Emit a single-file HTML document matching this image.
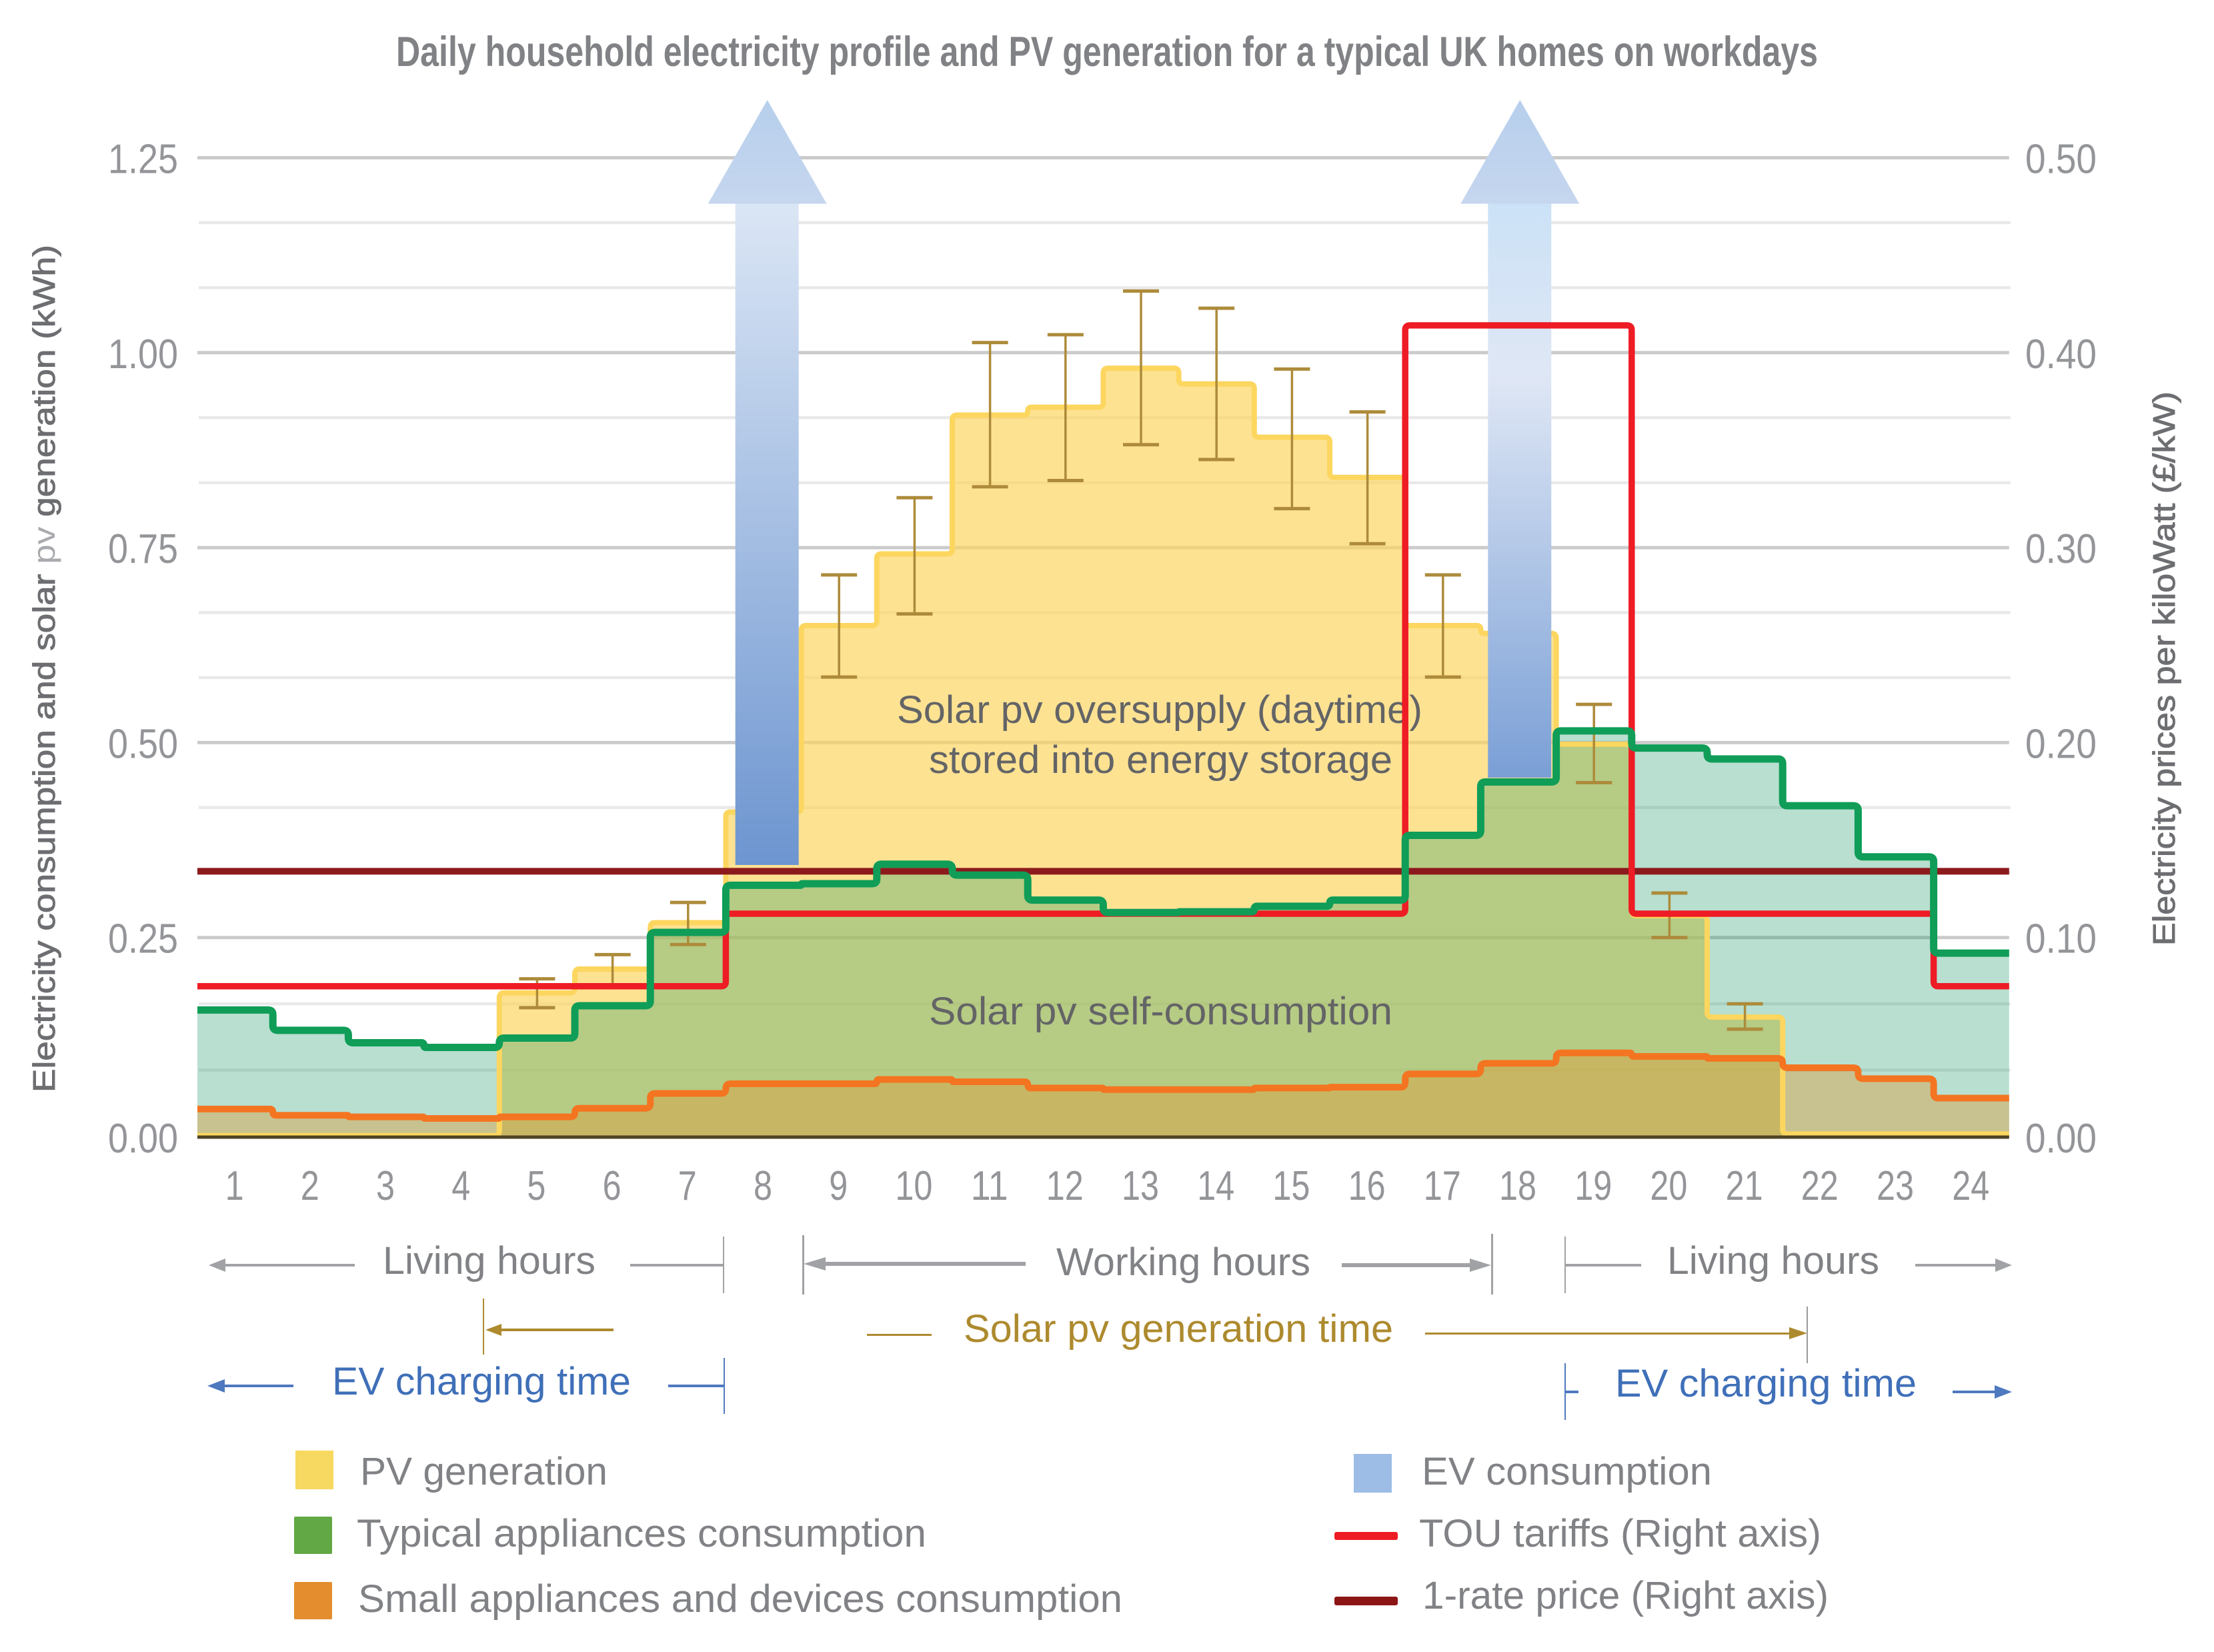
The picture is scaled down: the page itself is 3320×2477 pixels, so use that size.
<!DOCTYPE html>
<html lang="en">
<head>
<meta charset="utf-8">
<title>Daily household electricity profile and PV generation</title>
<style>
html,body{margin:0;padding:0;background:#fff;}
svg{display:block;}
text{font-family:"Liberation Sans",sans-serif;}
.ann{font-size:58px;fill:#808285;}
.leg{font-size:58px;fill:#808285;}
.inner{font-size:58px;fill:#636466;}
.tick{font-size:62px;fill:#939598;}
</style>
</head>
<body>
<svg id="chart" xmlns="http://www.w3.org/2000/svg" width="3320" height="2477" viewBox="0 0 3320 2477">
<defs>
<linearGradient id="evGradA" x1="0" y1="0" x2="0" y2="1"><stop offset="0" stop-color="#dbe6f5"/><stop offset="1" stop-color="#6d95d0"/></linearGradient>
<linearGradient id="evGradB" x1="0" y1="0" x2="0" y2="1"><stop offset="0" stop-color="#cbe2f6"/><stop offset="0.3" stop-color="#dfe7f5"/><stop offset="1" stop-color="#7a9fd6"/></linearGradient>
<linearGradient id="evHead" x1="0" y1="0" x2="0" y2="1"><stop offset="0" stop-color="#b6cfec"/><stop offset="1" stop-color="#c6d6ef"/></linearGradient>
</defs>
<rect x="0" y="0" width="3320" height="2477" fill="#fff"/>
<g id="plot"></g>

<text x="594" y="99" font-size="63" font-weight="bold" fill="#808285" textLength="2132" lengthAdjust="spacingAndGlyphs">Daily household electricity profile and PV generation for a typical UK homes on workdays</text>

<text transform="translate(82,1638) rotate(-90)" font-size="46" fill="#6d6e71" stroke="#6d6e71" stroke-width="0.9" textLength="1271" lengthAdjust="spacingAndGlyphs">Electricity consumption and solar <tspan fill="#a8aaad" stroke="none">pv</tspan> generation (kWh)</text>
<text transform="translate(3261,1418) rotate(-90)" font-size="46" fill="#6d6e71" stroke="#6d6e71" stroke-width="0.9" textLength="831" lengthAdjust="spacingAndGlyphs">Electricity prices per kiloWatt (£/kW)</text>

<g fill="#a0a2a5" stroke="none">
<text class="ann" x="574" y="1910" textLength="319" lengthAdjust="spacingAndGlyphs">Living hours</text>
<rect x="330" y="1895" width="202" height="4"/>
<polygon points="313,1897 338,1887 338,1907"/>
<rect x="945" y="1895" width="140" height="4"/>
<rect x="1084" y="1854" width="2" height="85"/>
</g>
<g fill="#a0a2a5" stroke="none">
<text class="ann" x="1584" y="1912" textLength="381" lengthAdjust="spacingAndGlyphs">Working hours</text>
<rect x="1203" y="1852" width="3" height="89"/>
<rect x="1215" y="1892" width="323" height="6"/>
<polygon points="1205,1895 1238,1885 1238,1905"/>
<rect x="2012" y="1894" width="212" height="6"/>
<polygon points="2236,1897 2204,1887 2204,1907"/>
<rect x="2236" y="1850" width="3" height="91"/>
</g>
<g fill="#a0a2a5" stroke="none">
<text class="ann" x="2500" y="1910" textLength="318" lengthAdjust="spacingAndGlyphs">Living hours</text>
<rect x="2346" y="1854" width="2" height="85"/>
<rect x="2347" y="1895" width="114" height="4"/>
<rect x="2872" y="1895" width="128" height="4"/>
<polygon points="3017,1897 2992,1887 2992,1907"/>
</g>
<g fill="#ad8a2e" stroke="none">
<text class="ann" x="1445" y="2012" style="fill:#ad8a2e" textLength="644" lengthAdjust="spacingAndGlyphs">Solar pv generation time</text>
<rect x="724" y="1947" width="2" height="84"/>
<rect x="738" y="1992" width="182" height="4"/>
<polygon points="728,1994 752,1985 752,2003"/>
<rect x="1300" y="2000" width="97" height="3"/>
<rect x="2137" y="1998" width="560" height="3"/>
<polygon points="2710,1999 2683,1990 2683,2008"/>
<rect x="2709" y="1959" width="2" height="85" fill="#9a9a9a"/>
</g>
<g fill="#4f79bf" stroke="none">
<text class="ann" x="498" y="2091" style="fill:#3f6fb8" textLength="448" lengthAdjust="spacingAndGlyphs">EV charging time</text>
<rect x="325" y="2076" width="115" height="4"/>
<polygon points="311,2078 337,2068 337,2088"/>
<rect x="1002" y="2076" width="84" height="4"/>
<rect x="1085" y="2036" width="2" height="84"/>
</g>
<g fill="#4f79bf" stroke="none">
<text class="ann" x="2422" y="2094" style="fill:#3f6fb8" textLength="452" lengthAdjust="spacingAndGlyphs">EV charging time</text>
<rect x="2346" y="2044" width="2" height="85"/>
<rect x="2347" y="2085" width="20" height="4"/>
<rect x="2928" y="2085" width="70" height="4"/>
<polygon points="3017,2087 2991,2077 2991,2097"/>
</g>

<g>
<rect x="443" y="2175" width="57" height="58" fill="#f7d860"/>
<text class="leg" x="540" y="2226" textLength="371" lengthAdjust="spacingAndGlyphs">PV generation</text>
<rect x="441" y="2274" width="57" height="56" rx="2" fill="#62a845"/>
<text class="leg" x="535" y="2319" textLength="854" lengthAdjust="spacingAndGlyphs">Typical appliances consumption</text>
<rect x="441" y="2372" width="57" height="56" rx="2" fill="#e38d2e"/>
<text class="leg" x="537" y="2417" textLength="1146" lengthAdjust="spacingAndGlyphs">Small appliances and devices consumption</text>
<rect x="2030" y="2180" width="57" height="58" fill="#9dbde6"/>
<text class="leg" x="2132" y="2226" textLength="435" lengthAdjust="spacingAndGlyphs">EV consumption</text>
<rect x="2001" y="2297" width="95" height="12" rx="3" fill="#ee1c25"/>
<text class="leg" x="2128" y="2319" textLength="603" lengthAdjust="spacingAndGlyphs">TOU tariffs (Right axis)</text>
<rect x="2001" y="2394" width="95" height="13" rx="3" fill="#8c1515"/>
<text class="leg" x="2133" y="2412" textLength="609" lengthAdjust="spacingAndGlyphs">1-rate price (Right axis)</text>
</g>
</svg>

<script>
// Chart data
const hours = ['1','2','3','4','5','6','7','8','9','10','11','12','13','14','15','16','17','18','19','20','21','22','23','24'];
const pvGeneration = [-0.004,-0.004,-0.004,-0.004,0.179,0.2095,0.269,0.411,0.650,0.742,0.920,0.930,0.980,0.960,0.8915,0.840,0.650,0.640,0.498,0.278,0.148,-0.002,-0.002,-0.002];
const pvErrorHours = [5,6,7,9,10,11,12,13,14,15,16,17,19,20,21];
const pvErrorHigh = [0.197,0.228,0.295,0.715,0.814,1.013,1.023,1.079,1.057,0.979,0.924,0.715,0.549,0.307,0.165];
const pvErrorLow = [0.160,0.187,0.241,0.584,0.665,0.828,0.836,0.882,0.863,0.800,0.755,0.584,0.4486,0.250,0.1325];
const typicalAppliances = [0.157,0.131,0.115,0.109,0.121,0.1625,0.2566,0.317,0.319,0.344,0.330,0.298,0.282,0.283,0.290,0.298,0.381,0.4495,0.515,0.493,0.479,0.419,0.3535,0.230];
const smallAppliances = [0.030,0.022,0.020,0.018,0.020,0.031,0.050,0.0624,0.0624,0.068,0.065,0.057,0.055,0.055,0.057,0.058,0.075,0.0886,0.102,0.0975,0.095,0.083,0.069,0.044];
const touTariff = [0.075,0.075,0.075,0.075,0.075,0.075,0.075,0.1122,0.1122,0.1122,0.1122,0.1122,0.1122,0.1122,0.1122,0.1122,0.414,0.414,0.414,0.1122,0.1122,0.1122,0.1122,0.075];
const oneRatePrice = 0.134;
const evArrowHour = [8.05,18.02];
const evArrowBase = [0.343,0.455];
const evArrowShoulder = 1.191;
const evArrowTip = 1.324;
const leftMajorTicks = [1.25,1.00,0.75,0.50,0.25];
const leftMinorTicks = [1.1667,1.0833,0.9167,0.8333,0.6667,0.5833,0.4167,0.3333,0.165,0.08];
const leftTickLabels = ['1.25','1.00','0.75','0.50','0.25','0.00'];
const rightTickLabels = ['0.50','0.40','0.30','0.20','0.10','0.00'];
const axisFloor = -0.006;

// Axis functions
function xAt(i){ return 296 + i * 113.2; }
function yLeft(v){ return 1698 - v * 1169.2; }
function yRight(v){ return yLeft(v * 2.5); }

const plot = document.getElementById('plot');
const NS = 'http://www.w3.org/2000/svg';
function make(tag, parent){
  const el = document.createElementNS(NS, tag);
  (parent || plot).appendChild(el);
  return el;
}
// Step outline with softly rounded corners
function stepPath(values, yFn){
  let d = 'M' + xAt(0) + ' ' + yFn(values[0]);
  for (let i = 1; i < values.length; i++){
    const x = xAt(i);
    const y1 = yFn(values[i - 1]);
    const y2 = yFn(values[i]);
    const dy = y2 - y1;
    if (dy === 0){
      continue;
    }
    const s = dy > 0 ? 1 : -1;
    const r = Math.min(7, Math.abs(dy) / 2);
    d += ' H' + (x - r) + ' Q' + x + ' ' + y1 + ' ' + x + ' ' + (y1 + s * r);
    d += ' V' + (y2 - s * r) + ' Q' + x + ' ' + y2 + ' ' + (x + r) + ' ' + y2;
  }
  return d + ' H' + xAt(values.length);
}
function closedStep(values){
  return stepPath(values, yLeft) + ' V' + yLeft(axisFloor) + ' H' + xAt(0) + ' Z';
}

// Gridlines
leftMinorTicks.forEach(function(v){
  const el = make('line');
  
  
  el.setAttribute('x1', xAt(0) + 2);
  el.setAttribute('x2', xAt(24) + 2);
  el.setAttribute('y1', yLeft(v));
  el.setAttribute('y2', yLeft(v));
  el.setAttribute('stroke', '#e9e9ea');
  el.setAttribute('stroke-width', '4.5');
});
leftMajorTicks.forEach(function(v){
  const el = make('line');
  
  
  el.setAttribute('x1', xAt(0));
  el.setAttribute('x2', xAt(24));
  el.setAttribute('y1', yLeft(v));
  el.setAttribute('y2', yLeft(v));
  el.setAttribute('stroke', '#cbcbcc');
  el.setAttribute('stroke-width', '5');
});

// Area fills
const pvFill = make('path');


pvFill.setAttribute('d', closedStep(pvGeneration));
pvFill.setAttribute('fill', 'rgba(252,212,95,0.68)');

const typicalFill = make('path');


typicalFill.setAttribute('d', closedStep(typicalAppliances));
typicalFill.setAttribute('fill', 'rgba(20,150,100,0.3)');

const smallFill = make('path');


smallFill.setAttribute('d', closedStep(smallAppliances));
smallFill.setAttribute('fill', 'rgba(225,150,50,0.4)');

const pvLine = make('path');


pvLine.setAttribute('d', stepPath(pvGeneration, yLeft));
pvLine.setAttribute('fill', 'none');
pvLine.setAttribute('stroke', '#fcd65f');
pvLine.setAttribute('stroke-width', '8');
pvLine.setAttribute('stroke-linejoin', 'round');

// Error bars
pvErrorHours.forEach(function(h, i){
  const cx = xAt(h - 0.5);
  const stem = make('line');
  
  
  stem.setAttribute('x1', cx);
  stem.setAttribute('x2', cx);
  stem.setAttribute('y1', yLeft(pvErrorHigh[i]));
  stem.setAttribute('y2', yLeft(pvErrorLow[i]));
  stem.setAttribute('stroke', '#ad8b3a');
  stem.setAttribute('stroke-width', '3.5');
  [pvErrorHigh[i], pvErrorLow[i]].forEach(function(v){
    const cap = make('line');
    
    
    cap.setAttribute('x1', cx - 27);
    cap.setAttribute('x2', cx + 27);
    cap.setAttribute('y1', yLeft(v));
    cap.setAttribute('y2', yLeft(v));
    cap.setAttribute('stroke', '#ad8b3a');
    cap.setAttribute('stroke-width', '5');
  });
});

// EV arrows
evArrowHour.forEach(function(h, i){
  const cx = xAt(h - 0.5);
  const shaft = make('rect');
  
  
  shaft.setAttribute('x', cx - 48);
  shaft.setAttribute('width', 95);
  shaft.setAttribute('y', yLeft(evArrowShoulder));
  shaft.setAttribute('height', yLeft(evArrowBase[i]) - yLeft(evArrowShoulder));
  shaft.setAttribute('fill', i === 0 ? 'url(#evGradA)' : 'url(#evGradB)');
  const head = make('polygon');
  
  
  head.setAttribute('points', cx + ',' + yLeft(evArrowTip) + ' ' + (cx + 89) + ',' + yLeft(evArrowShoulder) + ' ' + (cx - 89) + ',' + yLeft(evArrowShoulder));
  head.setAttribute('fill', 'url(#evHead)');
});

// Inner labels sit under the step lines
const innerA = make('text');


innerA.setAttribute('class', 'inner');
innerA.setAttribute('x', '1345');
innerA.setAttribute('y', '1084');
innerA.setAttribute('textLength', '788');
innerA.setAttribute('lengthAdjust', 'spacingAndGlyphs');
innerA.textContent = 'Solar pv oversupply (daytime)';

const innerB = make('text');


innerB.setAttribute('class', 'inner');
innerB.setAttribute('x', '1393');
innerB.setAttribute('y', '1159');
innerB.setAttribute('textLength', '695');
innerB.setAttribute('lengthAdjust', 'spacingAndGlyphs');
innerB.textContent = 'stored into energy storage';

const innerC = make('text');


innerC.setAttribute('class', 'inner');
innerC.setAttribute('x', '1393');
innerC.setAttribute('y', '1536');
innerC.setAttribute('textLength', '695');
innerC.setAttribute('lengthAdjust', 'spacingAndGlyphs');
innerC.textContent = 'Solar pv self-consumption';

// Lines
const oneRate = make('line');


oneRate.setAttribute('x1', xAt(0));
oneRate.setAttribute('x2', xAt(24));
oneRate.setAttribute('y1', yRight(oneRatePrice));
oneRate.setAttribute('y2', yRight(oneRatePrice));
oneRate.setAttribute('stroke', '#8c1a1c');
oneRate.setAttribute('stroke-width', '10');

const smallLine = make('path');


smallLine.setAttribute('d', stepPath(smallAppliances, yLeft));
smallLine.setAttribute('fill', 'none');
smallLine.setAttribute('stroke', '#f47521');
smallLine.setAttribute('stroke-width', '10');
smallLine.setAttribute('stroke-linejoin', 'round');

const touLine = make('path');


touLine.setAttribute('d', stepPath(touTariff, yRight));
touLine.setAttribute('fill', 'none');
touLine.setAttribute('stroke', '#ee1c25');
touLine.setAttribute('stroke-width', '9.5');
touLine.setAttribute('stroke-linejoin', 'round');

const typicalLine = make('path');


typicalLine.setAttribute('d', stepPath(typicalAppliances, yLeft));
typicalLine.setAttribute('fill', 'none');
typicalLine.setAttribute('stroke', '#0f9d58');
typicalLine.setAttribute('stroke-width', '11');
typicalLine.setAttribute('stroke-linejoin', 'round');

const baseLine = make('line');


baseLine.setAttribute('x1', xAt(0));
baseLine.setAttribute('x2', xAt(24));
baseLine.setAttribute('y1', yLeft(axisFloor));
baseLine.setAttribute('y2', yLeft(axisFloor));
baseLine.setAttribute('stroke', '#4f4423');
baseLine.setAttribute('stroke-width', '5');

// Tick labels
hours.forEach(function(label, i){
  const t = make('text');
  
  
  t.setAttribute('class', 'tick');
  t.setAttribute('x', xAt(i + 0.5) - 1);
  t.setAttribute('y', '1799');
  t.setAttribute('text-anchor', 'middle');
  t.setAttribute('textLength', label.length * 28);
  t.setAttribute('lengthAdjust', 'spacingAndGlyphs');
  t.textContent = label;
});
const tickYs = leftMajorTicks.concat([axisFloor]);
leftTickLabels.forEach(function(label, i){
  const t = make('text');
  
  
  t.setAttribute('class', 'tick');
  t.setAttribute('x', '162');
  t.setAttribute('y', yLeft(tickYs[i]) + 23);
  t.setAttribute('textLength', '105');
  t.setAttribute('lengthAdjust', 'spacingAndGlyphs');
  t.textContent = label;
});
rightTickLabels.forEach(function(label, i){
  const t = make('text');
  
  
  t.setAttribute('class', 'tick');
  t.setAttribute('x', '3037');
  t.setAttribute('y', yLeft(tickYs[i]) + 23);
  t.setAttribute('textLength', '107');
  t.setAttribute('lengthAdjust', 'spacingAndGlyphs');
  t.textContent = label;
});
</script>
</body>
</html>
